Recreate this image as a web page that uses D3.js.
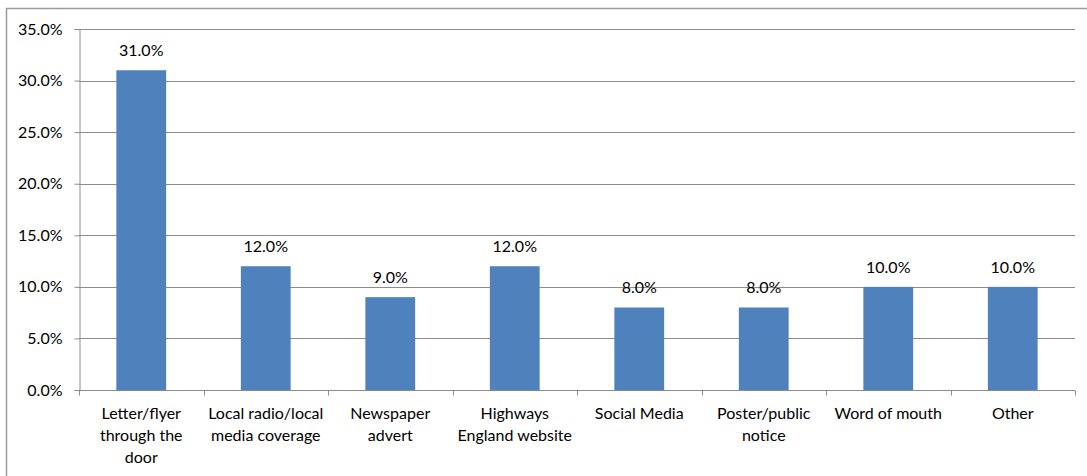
<!DOCTYPE html>
<html>
<head>
<meta charset="utf-8">
<script src="https://cdn.jsdelivr.net/npm/d3@7"></script>
<style>
  html, body { margin: 0; padding: 0; background: #fff; }
  svg text { font-family: Lato, "Open Sans", "Liberation Sans", sans-serif; fill: #000; }
</style>
</head>
<body>
<svg id="chart" width="1087" height="476"></svg>
<script>
// Source of awareness, share of respondents (%)
const categories = [
  ["Letter/flyer", "through the", "door"],
  ["Local radio/local", "media coverage"],
  ["Newspaper", "advert"],
  ["Highways", "England website"],
  ["Social Media"],
  ["Poster/public", "notice"],
  ["Word of mouth"],
  ["Other"]
];
const values = [31.0, 12.0, 9.0, 12.0, 8.0, 8.0, 10.0, 10.0];
const yTicks = [0, 5, 10, 15, 20, 25, 30, 35];

const svg = d3.select("#chart");
const W = 1087, H = 476;
const plot = { left: 79, right: 1075, top: 29, bottom: 390 };
const FONT = 16;

// Outer frame (left and top edges)
svg.append("path")
  .attr("d", `M6.5,${H} V8.5 H${W}`)
  .attr("fill", "none").attr("stroke", "#9a9a9a").attr("stroke-width", 1.5);

const keys = categories.map((c, i) => i);
const x = d3.scaleBand().domain(keys).range([plot.left, plot.right]).paddingInner(0.6).paddingOuter(0.3);
const xb = d3.scaleBand().domain(keys).range([plot.left, plot.right]);
const y = d3.scaleLinear().domain([0, 35]).range([plot.bottom, plot.top]);

// Horizontal gridlines
svg.append("g").selectAll("line").data(yTicks.filter(t => t > 0)).join("line")
  .attr("x1", plot.left).attr("x2", plot.right)
  .attr("y1", d => Math.round(y(d)) + 0.5).attr("y2", d => Math.round(y(d)) + 0.5)
  .attr("stroke", "#8c8c8c").attr("stroke-width", 1);

// Bars
svg.append("g").selectAll("rect").data(values).join("rect")
  .attr("x", (d, i) => x(i)).attr("width", x.bandwidth())
  .attr("y", d => y(d)).attr("height", d => y(0) - y(d))
  .attr("fill", "#4f81bd");

// Value labels
svg.append("g").selectAll("text").data(values).join("text")
  .attr("x", (d, i) => x(i) + x.bandwidth() / 2)
  .attr("y", d => y(d) - 14)
  .attr("text-anchor", "middle").attr("font-size", FONT)
  .text(d => d.toFixed(1) + "%");

// Y axis
const yAxis = d3.axisLeft(y).tickValues(yTicks).tickFormat(d => d.toFixed(1) + "%").tickSize(5).tickPadding(12);
const gy = svg.append("g").attr("transform", `translate(${plot.left + 0.5},0)`).call(yAxis);
gy.selectAll("line").attr("stroke", "#8c8c8c");
gy.select(".domain").attr("stroke", "#8c8c8c");
gy.selectAll("text").attr("font-size", FONT).attr("font-family", "Lato, 'Open Sans', sans-serif").attr("fill", "#000");

// X axis with tick marks at band boundaries
const gx = svg.append("g").attr("transform", `translate(0,${plot.bottom + 0.5})`);
gx.append("line").attr("x1", plot.left).attr("x2", plot.right).attr("stroke", "#8c8c8c");
const bounds = keys.map(k => xb(k)).concat([plot.right]);
gx.selectAll("line.tick").data(bounds).join("line").attr("class", "tick")
  .attr("x1", d => Math.round(d) + 0.5).attr("x2", d => Math.round(d) + 0.5)
  .attr("y1", 0).attr("y2", 5).attr("stroke", "#8c8c8c");

// Category labels
const labels = gx.selectAll("text").data(categories).join("text")
  .attr("text-anchor", "middle").attr("font-size", FONT)
  .attr("transform", (d, i) => `translate(${xb(i) + xb.bandwidth() / 2},0)`);
labels.selectAll("tspan").data(d => d).join("tspan")
  .attr("x", 0).attr("y", (d, j) => 28 + j * 22)
  .text(d => d);
</script>
</body>
</html>
